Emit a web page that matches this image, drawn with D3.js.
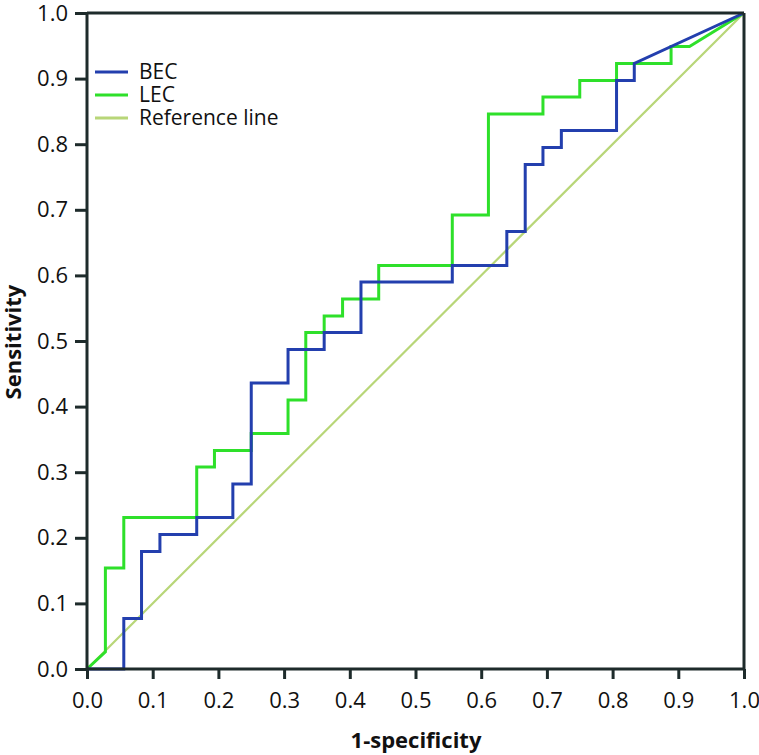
<!DOCTYPE html>
<html>
<head>
<meta charset="utf-8">
<script src="https://cdn.jsdelivr.net/npm/d3@7"></script>
<style>
  html, body { margin: 0; padding: 0; background: #fff; }
  svg { display: block; }
  text { font-family: "Open Sans", "Noto Sans", sans-serif; fill: #111; }
</style>
</head>
<body>
<svg id="chart" width="759" height="755"></svg>
<script>
// ROC curve vertices (1-specificity, sensitivity)
const becFpr = [0, 0.056, 0.056, 0.083, 0.083, 0.111, 0.111, 0.167, 0.167, 0.222, 0.222, 0.25, 0.25, 0.306, 0.306, 0.361, 0.361, 0.417, 0.417, 0.556, 0.556, 0.639, 0.639, 0.667, 0.667, 0.694, 0.694, 0.722, 0.722, 0.806, 0.806, 0.833, 0.833, 1.0];
const becTpr = [0, 0, 0.077, 0.077, 0.179, 0.179, 0.205, 0.205, 0.231, 0.231, 0.282, 0.282, 0.436, 0.436, 0.487, 0.487, 0.513, 0.513, 0.590, 0.590, 0.615, 0.615, 0.667, 0.667, 0.769, 0.769, 0.795, 0.795, 0.821, 0.821, 0.897, 0.897, 0.923, 1.0];
const lecFpr = [0, 0.028, 0.028, 0.056, 0.056, 0.167, 0.167, 0.194, 0.194, 0.25, 0.25, 0.306, 0.306, 0.333, 0.333, 0.361, 0.361, 0.389, 0.389, 0.444, 0.444, 0.556, 0.556, 0.611, 0.611, 0.694, 0.694, 0.75, 0.75, 0.806, 0.806, 0.889, 0.889, 0.917, 1.0];
const lecTpr = [0, 0.026, 0.154, 0.154, 0.231, 0.231, 0.308, 0.308, 0.333, 0.333, 0.359, 0.359, 0.410, 0.410, 0.513, 0.513, 0.538, 0.538, 0.564, 0.564, 0.615, 0.615, 0.692, 0.692, 0.846, 0.846, 0.872, 0.872, 0.897, 0.897, 0.923, 0.923, 0.949, 0.949, 1.0];
const refFpr = [0, 1];
const refTpr = [0, 1];
const xTicks = [0, 0.1, 0.2, 0.3, 0.4, 0.5, 0.6, 0.7, 0.8, 0.9, 1.0];
const yTicks = [0, 0.1, 0.2, 0.3, 0.4, 0.5, 0.6, 0.7, 0.8, 0.9, 1.0];
const seriesNames = ["BEC", "LEC", "Reference line"];
const seriesColors = ["#233fae", "#2ee02a", "#b8d678"];

const svg = d3.select("#chart");
const L = 87, R = 744, T = 13, B = 669;
const x = d3.scaleLinear().domain([0, 1]).range([L, R]);
const y = d3.scaleLinear().domain([0, 1]).range([B, T]);
const axisColor = "#1e2b2b";

const zip = (a, b) => a.map((v, i) => [v, b[i]]);
const line = d3.line().x(d => x(d[0])).y(d => y(d[1]));

// reference line
svg.append("path").datum(zip(refFpr, refTpr)).attr("d", line)
  .attr("fill", "none").attr("stroke", seriesColors[2]).attr("stroke-width", 2.2);
// LEC
svg.append("path").datum(zip(lecFpr, lecTpr)).attr("d", line)
  .attr("fill", "none").attr("stroke", seriesColors[1]).attr("stroke-width", 3);
// BEC
svg.append("path").datum(zip(becFpr, becTpr)).attr("d", line)
  .attr("fill", "none").attr("stroke", seriesColors[0]).attr("stroke-width", 3);

// frame top/right
svg.append("line").attr("x1", L).attr("x2", R).attr("y1", T).attr("y2", T)
  .attr("stroke", axisColor).attr("stroke-width", 3);
svg.append("line").attr("x1", R).attr("x2", R).attr("y1", T).attr("y2", B)
  .attr("stroke", axisColor).attr("stroke-width", 3);

// axes
const xAxis = d3.axisBottom(x).tickValues(xTicks).tickFormat(d3.format(".1f")).tickSize(10).tickPadding(13);
const yAxis = d3.axisLeft(y).tickValues(yTicks).tickFormat(d3.format(".1f")).tickSize(12).tickPadding(7);

const gx = svg.append("g").attr("transform", `translate(0,${B})`).call(xAxis);
const gy = svg.append("g").attr("transform", `translate(${L},0)`).call(yAxis);
[gx, gy].forEach(g => {
  g.select(".domain").attr("stroke", axisColor).attr("stroke-width", 3);
  g.selectAll(".tick line").attr("stroke", axisColor).attr("stroke-width", 3);
  g.selectAll(".tick text").attr("font-size", 22).attr("fill", "#111")
    .attr("font-family", "'Open Sans', sans-serif");
});
gx.select(".domain").attr("d", `M${L},0H${R}`);
gy.select(".domain").attr("d", `M0,${B}V${T}`);

// axis titles
svg.append("text").attr("x", 416).attr("y", 748).attr("text-anchor", "middle")
  .attr("font-size", 22).attr("font-weight", "bold").text("1-specificity");
svg.append("text").attr("transform", "translate(21,342) rotate(-90)").attr("text-anchor", "middle")
  .attr("font-size", 22).attr("font-weight", "bold").text("Sensitivity");

// legend
const leg = svg.append("g");
seriesNames.forEach((name, i) => {
  const yy = 72 + i * 23;
  leg.append("line").attr("x1", 95).attr("x2", 128).attr("y1", yy).attr("y2", yy)
    .attr("stroke", seriesColors[i]).attr("stroke-width", 3);
  leg.append("text").attr("x", 139).attr("y", yy + 7).attr("font-size", 21).text(name);
});
</script>
</body>
</html>
